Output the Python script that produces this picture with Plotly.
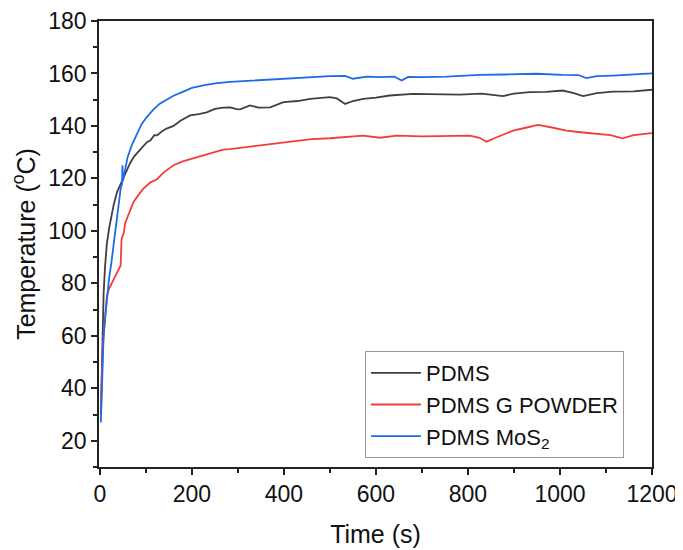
import plotly.graph_objects as go

# values
pdms_t = [2, 4, 6, 8, 11, 15, 20, 25, 30, 37, 45, 50, 58, 66, 75, 88, 95, 102, 110, 118,
          124, 135, 145, 160, 175, 196, 215, 232, 250, 268, 283, 297, 305, 326, 345, 370,
          399, 430, 457, 500, 515, 533, 550, 572, 600, 630, 681, 730, 782, 830, 876, 900,
          934, 970, 1006, 1030, 1050, 1080, 1115, 1160, 1200]
pdms_temp = [30, 50, 65, 76, 86, 95, 101, 106, 110, 114.7, 118, 120, 123, 126, 128.5, 131,
             132.5, 133.8, 134.5, 136.5, 136.4, 138, 139, 140, 142, 144, 144.5, 145.2, 146.5,
             147, 147.1, 146.4, 146.3, 147.8, 147, 147.1, 149.1, 149.5, 150.3, 151, 150.5,
             148.4, 149.5, 150.3, 150.8, 151.6, 152.2, 152, 151.9, 152.3, 151.4, 152.3, 152.9,
             153, 153.5, 152.5, 151.4, 152.5, 153.1, 153.2, 153.8]

gpow_t = [2, 4, 6, 8, 11, 15, 20, 30, 40, 45, 47, 52, 55, 62, 73, 85, 94, 110, 124, 140,
          160, 180, 196, 220, 245, 268, 283, 320, 341, 356, 390, 413, 428, 460, 500, 540,
          572, 609, 645, 700, 760, 804, 825, 840, 860, 898, 930, 952, 980, 1014, 1050,
          1079, 1110, 1136, 1160, 1200]
gpow_temp = [30, 45, 55, 60, 68, 75, 78, 81.5, 85, 86.8, 96.8, 99.4, 103, 106, 111, 114, 116,
             118.5, 119.7, 122.5, 125, 126.5, 127.3, 128.5, 130, 131, 131.2, 132, 132.3, 132.7,
             133.5, 133.8, 134.4, 135, 135.3, 135.8, 136.3, 135.5, 136.3, 136, 136.3, 136.3,
             135.5, 134, 135.5, 138.2, 139.5, 140.4, 139.5, 138.2, 137.5, 137, 136.5, 135.3,
             136.5, 137.3]

mos2_t = [2, 4, 6, 8, 12, 16, 20, 25, 30, 35, 40, 45, 48, 49, 50, 55, 60, 70, 80, 90, 100,
          115, 130, 145, 160, 180, 200, 225, 250, 283, 320, 370, 420, 470, 500, 533, 550,
          580, 609, 640, 656, 670, 700, 754, 790, 826, 880, 949, 1006, 1040, 1057, 1080,
          1115, 1160, 1200]
mos2_temp = [27, 40, 52, 60, 68, 76, 82, 88, 95, 103, 110, 116, 118, 125, 119, 124, 128, 133,
             137, 140.5, 143, 146, 148.5, 150, 151.5, 153, 154.5, 155.5, 156.2, 156.8, 157.2,
             157.8, 158.3, 158.7, 159, 159.1, 158, 158.8, 158.6, 158.8, 157.3, 158.7, 158.6,
             158.8, 159.2, 159.5, 159.6, 159.9, 159.5, 159.4, 158.2, 159, 159.2, 159.5, 160]

series = [
    ("PDMS", pdms_t, pdms_temp, "#404040"),
    ("PDMS G POWDER", gpow_t, gpow_temp, "#f43c3c"),
    ("PDMS MoS<sub>2</sub>", mos2_t, mos2_temp, "#1e6be6"),
]

FONT = "Liberation Sans, Arial"

fig = go.Figure()
for name, t, temp, col in series:
    fig.add_trace(go.Scatter(x=t, y=temp, mode="lines", name=name,
                             line=dict(color=col, width=1.8)))

axis_common = dict(
    showline=True, linecolor="#222", linewidth=1.5, mirror=True,
    ticks="outside", ticklen=6, tickwidth=1.5, tickcolor="#222",
    showgrid=False, zeroline=False, automargin=False, ticklabeloverflow="allow",
    tickfont=dict(family=FONT, size=23, color="#111"),
)

fig.update_xaxes(range=[-2, 1200], dtick=200, tick0=0,
                 minor=dict(ticks="outside", ticklen=4, dtick=100, tickcolor="#222", tickwidth=1.5),
                 title=dict(text="Time (s)", font=dict(family=FONT, size=25, color="#111"),
                            standoff=19),
                 **axis_common)
fig.update_yaxes(range=[10, 180], dtick=20, tick0=0,
                 minor=dict(ticks="outside", ticklen=4, dtick=10, tickcolor="#222", tickwidth=1.5),
                 title=dict(text="Temperature (<sup>o</sup>C)",
                            font=dict(family=FONT, size=25, color="#111"), standoff=10),
                 **axis_common)

# page body has an 8px default margin, so the figure is sized to fit inside it
fig.update_layout(
    width=675, height=542,
    plot_bgcolor="white", paper_bgcolor="white",
    margin=dict(l=91, r=31, t=13, b=83),
    legend=dict(x=0.481, y=0.02, xanchor="left", yanchor="bottom",
                bordercolor="#999", borderwidth=1, bgcolor="white",
                font=dict(family=FONT, size=22, color="#111"),
                tracegroupgap=0, itemwidth=50),
)

fig.write_html("out.html")
